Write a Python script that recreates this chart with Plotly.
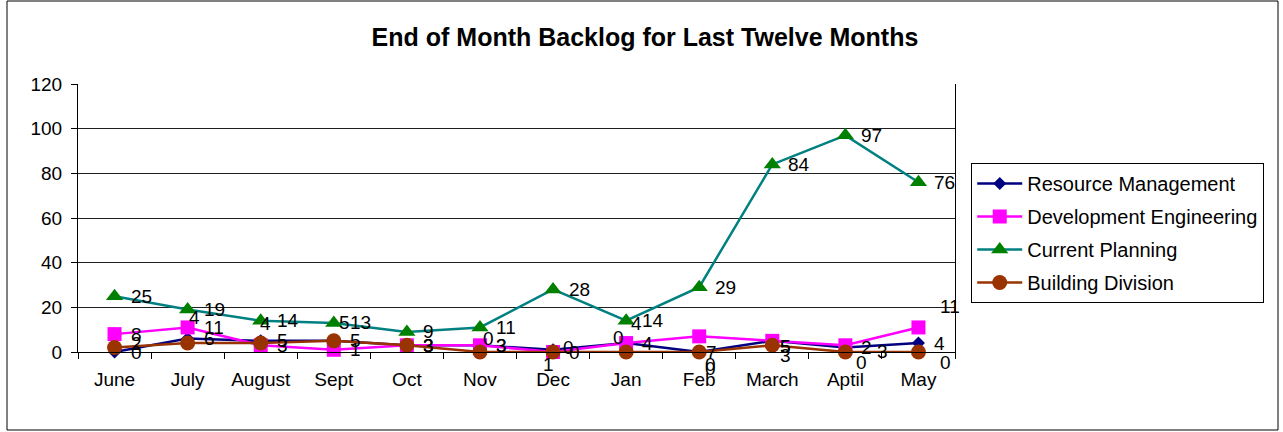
import plotly.graph_objects as go

# ---------------- data ----------------
months = ["June", "July", "August", "Sept", "Oct", "Nov", "Dec", "Jan", "Feb", "March", "Aptil", "May"]
resource_mgmt = [0, 6, 5, 5, 3, 3, 1, 4, 0, 5, 2, 4]
dev_eng = [8, 11, 3, 1, 3, 3, 0, 4, 7, 5, 3, 11]
current_planning = [25, 19, 14, 13, 9, 11, 28, 14, 29, 84, 97, 76]
building_div = [2, 4, 4, 5, 3, 0, 0, 0, 0, 3, 0, 0]
y_ticks = [0, 20, 40, 60, 80, 100, 120]
title_text = "End of Month Backlog for Last Twelve Months"

# ---------------- style ----------------
FONT = "Liberation Sans, Arial, sans-serif"
series = [
    dict(name="Resource Management", y=resource_mgmt, line="#000080", mcolor="#000080", symbol="diamond", size=10),
    dict(name="Development Engineering", y=dev_eng, line="#FF00FF", mcolor="#FF00FF", symbol="square", size=14),
    dict(name="Current Planning", y=current_planning, line="#008080", mcolor="#008000", symbol="triangle-up", size=15),
    dict(name="Building Division", y=building_div, line="#993300", mcolor="#993300", symbol="circle", size=15),
]
# label offsets (px, right / down) relative to the point; default to the right
DEFAULT_OFF = (14, 0)
label_offsets = {
    "Resource Management": {6: (-12, 15), 7: (3, -20), 8: (4, 12), 9: (6, 6)},
    "Development Engineering": {8: (5, 16), 9: (6, 6), 10: (30, 6), 11: (20, -21)},
    "Current Planning": {},
    "Building Division": {0: (14, -4), 1: (-1, -26), 2: (-3, -20), 3: (3, -18), 5: (1, -14),
                          6: (8, -5), 7: (-15, -15), 8: (4, 16), 9: (6, 10), 10: (9, 10), 11: (20, 10)},
}

fig = go.Figure()
annotations = []
for k, s in enumerate(series):
    fig.add_trace(go.Scatter(
        x=months, y=s["y"], name=s["name"], mode="lines+markers",
        legendgroup="g%d" % k,
        line=dict(color=s["line"], width=2.5),
        marker=dict(symbol=s["symbol"], size=s["size"], color=s["mcolor"], line=dict(width=0)),
        cliponaxis=False,
    ))
    offs = label_offsets[s["name"]]
    for i, v in enumerate(s["y"]):
        dx, dy = offs.get(i, DEFAULT_OFF)
        annotations.append(dict(
            x=months[i], y=v, xref="x", yref="y", text=str(v), showarrow=False,
            xanchor="left", yanchor="middle", xshift=dx, yshift=-dy,
            font=dict(family=FONT, size=19, color="black"),
        ))

fig.update_layout(
    width=1283, height=432,
    margin=dict(l=78, r=328, t=84, b=80),
    paper_bgcolor="white", plot_bgcolor="white",
    font=dict(family=FONT, size=19, color="black"),
    title=dict(text="<b>" + title_text + "</b>", x=(645) / 1283, xref="container", xanchor="center",
               y=(432 - 37) / 432, yref="container", yanchor="middle",
               font=dict(family=FONT, size=25, color="black")),
    showlegend=True,
    legend=dict(x=1.0185, xanchor="left", y=(352 - 163) / 268, yanchor="top",
                bordercolor="black", borderwidth=1, bgcolor="white",
                font=dict(family=FONT, size=20, color="black"),
                traceorder="grouped", tracegroupgap=4, itemwidth=45),
    annotations=annotations,
    shapes=[dict(type="rect", xref="paper", yref="paper",
                 x0=(7 - 78) / 877, x1=(1278 - 78) / 877,
                 y0=(352 - 430) / 268, y1=(352 - 1) / 268,
                 line=dict(color="black", width=1), fillcolor="rgba(0,0,0,0)", layer="below")],
)
fig.update_xaxes(
    type="category", categoryorder="array", categoryarray=months,
    range=[-0.5, len(months) - 0.5], autorange=False,
    showline=True, linecolor="black", linewidth=1,
    ticks="outside", ticklen=6, tickcolor="black", tickson="boundaries",
    ticklabelstandoff=10,
    showgrid=False, tickfont=dict(family=FONT, size=19, color="black"),
)
fig.update_yaxes(
    range=[0, 120], tickvals=y_ticks, showline=True, linecolor="black", linewidth=1, mirror=True,
    ticks="outside", ticklen=6, tickcolor="black", ticklabelstandoff=5,
    showgrid=True, gridcolor="#202020", gridwidth=1, zeroline=False,
    tickfont=dict(family=FONT, size=19, color="black"),
)
fig.write_html("out.html", config={"displayModeBar": False},
               post_script="document.body.style.margin='0px';")
